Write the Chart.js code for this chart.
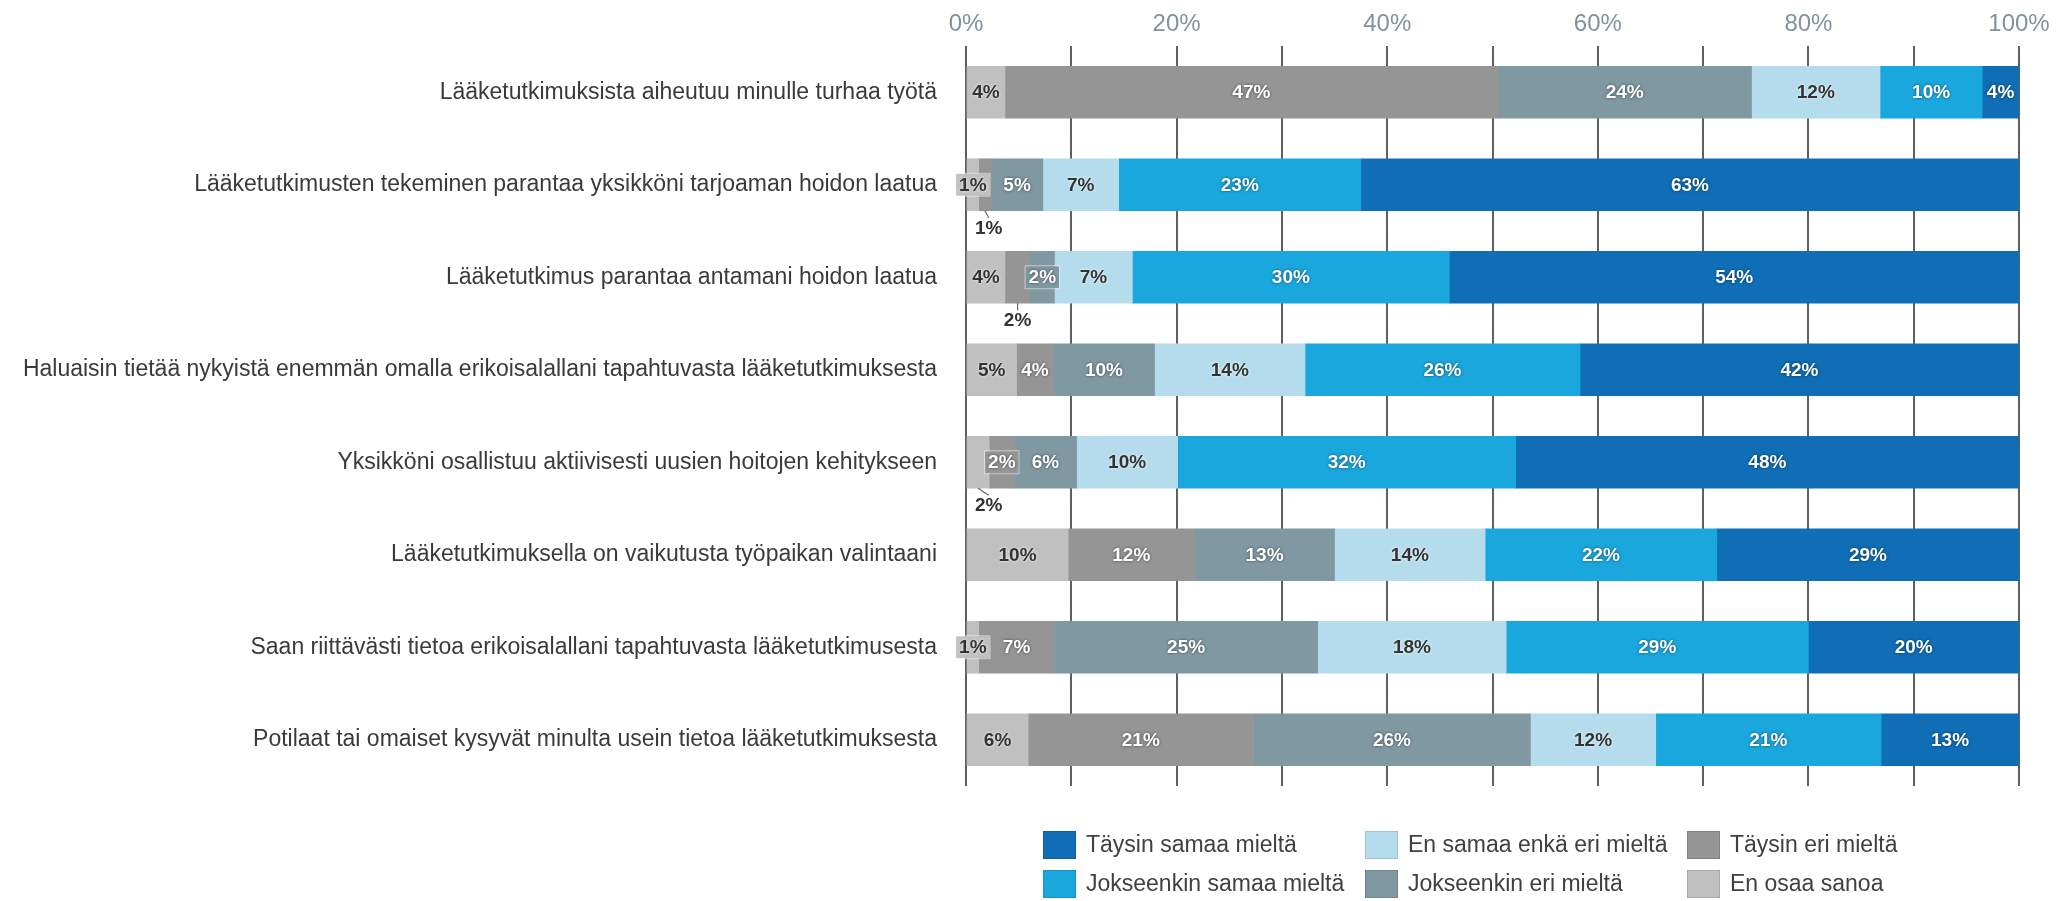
<!DOCTYPE html>
<html><head><meta charset="utf-8">
<script src="https://cdn.jsdelivr.net/npm/chart.js@4.4.1/dist/chart.umd.min.js"></script>
<style>
html,body{margin:0;padding:0;background:#fff;}
#wrap{position:relative;width:2062px;height:901px;overflow:hidden;}
#c{position:absolute;left:0;top:0;}
#legend{position:absolute;left:1043px;top:825px;display:grid;grid-template-columns:322px 322px 322px;grid-template-rows:39px 39px;grid-auto-flow:column;font:23px "Liberation Sans",Arial,sans-serif;color:#404040;}
.item{display:flex;align-items:center;white-space:nowrap;}
.sw{width:33px;height:28px;margin-right:10px;box-sizing:border-box;border:1px solid rgba(0,0,0,0.12);}
</style></head>
<body><div id="wrap"><canvas id="c" width="2062" height="901"></canvas><div id="legend"></div></div>
<script>
const categories = [
  'Lääketutkimuksista aiheutuu minulle turhaa työtä',
  'Lääketutkimusten tekeminen parantaa yksikköni tarjoaman hoidon laatua',
  'Lääketutkimus parantaa antamani hoidon laatua',
  'Haluaisin tietää nykyistä enemmän omalla erikoisalallani tapahtuvasta lääketutkimuksesta',
  'Yksikköni osallistuu aktiivisesti uusien hoitojen kehitykseen',
  'Lääketutkimuksella on vaikutusta työpaikan valintaani',
  'Saan riittävästi tietoa erikoisalallani tapahtuvasta lääketutkimusesta',
  'Potilaat tai omaiset kysyvät minulta usein tietoa lääketutkimuksesta'
];
const seriesNames = ['En osaa sanoa','Täysin eri mieltä','Jokseenkin eri mieltä','En samaa enkä eri mieltä','Jokseenkin samaa mieltä','Täysin samaa mieltä'];
const enOsaaSanoa     = [3.7, 1.2, 3.7, 4.8, 2.2, 9.7, 1.2, 5.9];
const taysinEri       = [46.8, 1.2, 2.4, 3.5, 2.4, 12.0, 7.2, 21.4];
const jokseenkinEri   = [24.1, 4.9, 2.3, 9.6, 5.9, 13.3, 25.0, 26.3];
const enSamaaEnkaEri  = [12.2, 7.2, 7.4, 14.3, 9.6, 14.3, 17.9, 11.9];
const jokseenkinSamaa = [9.7, 23.0, 30.1, 26.1, 32.1, 22.0, 28.7, 21.4];
const taysinSamaa     = [3.5, 62.5, 54.1, 41.7, 47.8, 28.7, 20.0, 13.1];
const xTickLabels = [0, 20, 40, 60, 80, 100];

const seriesValues = [enOsaaSanoa, taysinEri, jokseenkinEri, enSamaaEnkaEri, jokseenkinSamaa, taysinSamaa];
const colors = ['#c0c0c0', '#959595', '#7f98a2', '#b5dcec', '#1aa7de', '#0f6eb6'];
const darkTextSeries = [0, 3];

const datasets = seriesNames.map((n, i) => ({
  label: n, data: seriesValues[i], backgroundColor: colors[i], borderWidth: 0,
  barThickness: 52
}));

const FONT = '"Liberation Sans", Arial, sans-serif';

const labelPlugin = {
  id: 'segLabels',
  afterDatasetsDraw(chart) {
    const ctx = chart.ctx;
    const special = {'1-0':'box','1-1':'below','2-1':'below','2-2':'box','4-0':'below','4-1':'box','6-0':'box'};
    ctx.save();
    ctx.font = 'bold 19px ' + FONT;
    ctx.textAlign = 'center';
    ctx.textBaseline = 'middle';
    const drawText = (t, x, y, dark) => {
      if (dark) { ctx.shadowColor = 'rgba(255,255,255,0.9)'; ctx.fillStyle = '#333333'; }
      else { ctx.shadowColor = 'rgba(0,0,0,0.55)'; ctx.fillStyle = '#ffffff'; }
      ctx.shadowBlur = 3; ctx.shadowOffsetX = 0; ctx.shadowOffsetY = 0;
      ctx.fillText(t, x, y);
      ctx.shadowBlur = 0; ctx.shadowColor = 'transparent';
    };
    chart.data.datasets.forEach((ds, di) => {
      const meta = chart.getDatasetMeta(di);
      meta.data.forEach((bar, i) => {
        const v = ds.data[i];
        const txt = Math.round(v) + '%';
        const l = Math.min(bar.x, bar.base), r = Math.max(bar.x, bar.base);
        const cx = (l + r) / 2, cy = bar.y, h = bar.height;
        const mode = special[i + '-' + di] || 'center';
        const dark = darkTextSeries.includes(di);
        const w = ctx.measureText(txt).width;
        if (mode === 'box') {
          ctx.fillStyle = ds.backgroundColor;
          ctx.fillRect(cx - w / 2 - 3, cy - 11, w + 6, 22);
          ctx.strokeStyle = 'rgba(255,255,255,0.5)';
          ctx.lineWidth = 1;
          ctx.strokeRect(cx - w / 2 - 3.5, cy - 11.5, w + 7, 23);
          drawText(txt, cx, cy + 1, dark);
        } else if (mode === 'below') {
          const lx = Math.max(cx, chart.chartArea.left + 9 + w / 2);
          const ly = cy + h / 2 + 17;
          ctx.strokeStyle = '#666';
          ctx.lineWidth = 1.2;
          ctx.beginPath();
          ctx.moveTo(cx, cy + h / 2);
          ctx.lineTo(lx, ly - 10);
          ctx.stroke();
          drawText(txt, lx, ly + 1, true);
        } else {
          drawText(txt, cx, cy + 1, dark);
        }
      });
    });
    ctx.restore();
  }
};

new Chart(document.getElementById('c'), {
  type: 'bar',
  data: { labels: categories, datasets },
  options: {
    indexAxis: 'y',
    responsive: false,
    animation: false,
    devicePixelRatio: 1,
    layout: { padding: { left: 0, right: 43, top: 0, bottom: 115 } },
    plugins: { legend: { display: false }, tooltip: { enabled: false } },
    scales: {
      x: {
        position: 'top', stacked: true, min: 0, max: 100,
        afterFit: s => { s.height = 46; },
        grid: { color: '#606060', lineWidth: 2, drawTicks: false },
        border: { display: false },
        ticks: {
          stepSize: 10, padding: 7, autoSkip: false, maxRotation: 0,
          color: '#7f939e', font: { family: FONT, size: 24 },
          callback: v => xTickLabels.includes(v) ? v + '%' : ''
        }
      },
      y: {
        stacked: true,
        afterFit: s => { s.width = 966; },
        grid: { display: false, drawTicks: false },
        border: { display: false },
        ticks: { padding: 29, color: '#3a3a3a', font: { family: FONT, size: 23 }, autoSkip: false }
      }
    }
  },
  plugins: [labelPlugin]
});

const legend = document.getElementById('legend');
seriesNames.map((n, i) => ({ n, c: colors[i] })).reverse().forEach(it => {
  const d = document.createElement('div');
  d.className = 'item';
  const sw = document.createElement('span');
  sw.className = 'sw';
  sw.style.background = it.c;
  const t = document.createElement('span');
  t.textContent = it.n;
  d.appendChild(sw); d.appendChild(t);
  legend.appendChild(d);
});
</script>
</body></html>
